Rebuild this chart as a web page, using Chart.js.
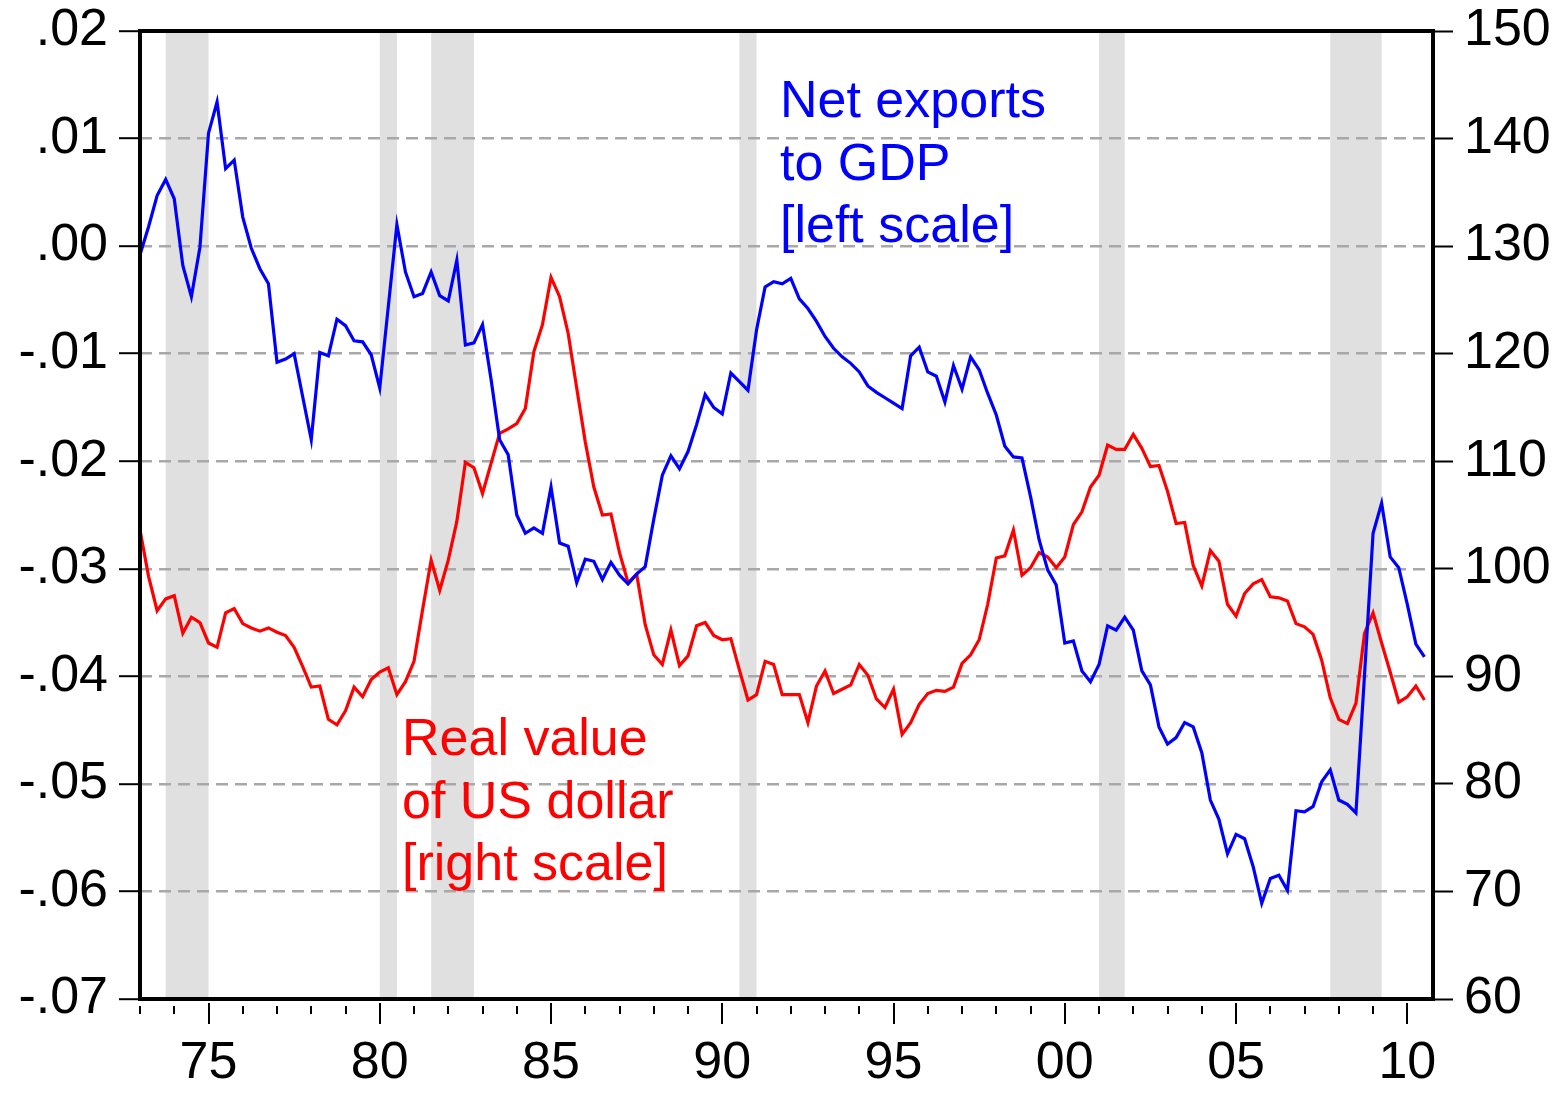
<!DOCTYPE html>
<html>
<head>
<meta charset="utf-8">
<title>Net exports to GDP and the real value of the US dollar</title>
<script src="https://cdn.jsdelivr.net/npm/chart.js@4.4.1/dist/chart.umd.min.js"></script>
<style>
  html, body { margin: 0; padding: 0; background: #fff; overflow: hidden; }
  #wrap { position: relative; width: 1564px; height: 1094px; }
  #chart { display: block; }
  .note {
    position: absolute;
    font-family: "Liberation Sans", Arial, sans-serif;
    font-size: 52px;
    line-height: 62.7px;
    white-space: nowrap;
  }
  #noteBlue { left: 780px; top: 68px; color: #0000ff; }
  #noteRed { left: 402px; top: 706px; color: #ff0000; }
</style>
</head>
<body>
<div id="wrap">
  <canvas id="chart" width="1564" height="1094"></canvas>
  <div class="note" id="noteBlue">Net exports<br>to GDP<br>[left scale]</div>
  <div class="note" id="noteRed">Real value<br>of US dollar<br>[right scale]</div>
</div>
<script>
// Quarterly observations, 1973Q1 to 2010Q3
const firstYear = 1973;

// Net exports to GDP (left scale)
const netExports = [
  -0.0008, 0.0018, 0.0047, 0.0062, 0.0044, -0.0018, -0.0047, -0.0001, 0.0105, 0.0134,
  0.0072, 0.0080, 0.0027, -0.0002, -0.0021, -0.0035, -0.0108, -0.0105, -0.0100, -0.0140,
  -0.0180, -0.0099, -0.0102, -0.0068, -0.0074, -0.0088, -0.0089, -0.0101, -0.0132, -0.0056,
  0.0020, -0.0024, -0.0047, -0.0044, -0.0024, -0.0046, -0.0051, -0.0013, -0.0092, -0.0090,
  -0.0073, -0.0124, -0.0180, -0.0194, -0.0250, -0.0267, -0.0262, -0.0267, -0.0224, -0.0276,
  -0.0279, -0.0313, -0.0291, -0.0293, -0.0310, -0.0294, -0.0306, -0.0314, -0.0305, -0.0298,
  -0.0254, -0.0213, -0.0195, -0.0207, -0.0191, -0.0166, -0.0138, -0.0150, -0.0156, -0.0118,
  -0.0126, -0.0134, -0.0078, -0.0038, -0.0033, -0.0035, -0.0030, -0.0049, -0.0058, -0.0070,
  -0.0084, -0.0095, -0.0103, -0.0109, -0.0117, -0.0130, -0.0136, -0.0141, -0.0146, -0.0151,
  -0.0102, -0.0094, -0.0117, -0.0121, -0.0145, -0.0111, -0.0133, -0.0103, -0.0115, -0.0137,
  -0.0157, -0.0186, -0.0196, -0.0197, -0.0233, -0.0273, -0.0301, -0.0315, -0.0369, -0.0367,
  -0.0395, -0.0405, -0.0389, -0.0353, -0.0357, -0.0345, -0.0357, -0.0395, -0.0408, -0.0447,
  -0.0463, -0.0457, -0.0443, -0.0447, -0.0471, -0.0515, -0.0533, -0.0565, -0.0547, -0.0551,
  -0.0577, -0.0611, -0.0588, -0.0585, -0.0599, -0.0525, -0.0526, -0.0521, -0.0498, -0.0487,
  -0.0515, -0.0519, -0.0527, -0.0399, -0.0267, -0.0239, -0.0289, -0.0299, -0.0333, -0.0370,
  -0.0382
];

// Real value of the US dollar (right scale)
const dollarIndex = [
  103.6, 99.3, 96.1, 97.2, 97.5, 94.0, 95.5, 95.0, 93.1, 92.7,
  95.9, 96.3, 94.9, 94.5, 94.2, 94.5, 94.1, 93.8, 92.7, 90.9,
  89.0, 89.1, 86.0, 85.5, 86.8, 89.0, 88.1, 89.7, 90.4, 90.8,
  88.3, 89.5, 91.4, 96.2, 100.8, 98.0, 100.8, 104.4, 109.9, 109.4,
  107.0, 109.8, 112.6, 113.0, 113.5, 114.9, 120.2, 122.7, 127.1, 125.3,
  121.9, 116.8, 111.8, 107.6, 105.0, 105.1, 101.5, 98.7, 99.5, 94.8,
  92.0, 91.1, 94.3, 91.0, 91.9, 94.7, 95.0, 93.8, 93.4, 93.5,
  90.6, 87.8, 88.3, 91.4, 91.1, 88.3, 88.3, 88.3, 85.7, 89.1,
  90.5, 88.4, 88.8, 89.2, 91.1, 90.1, 87.9, 87.1, 88.8, 84.6,
  85.7, 87.4, 88.4, 88.7, 88.6, 89.0, 91.2, 92.0, 93.4, 96.7,
  101.0, 101.2, 103.6, 99.4, 100.1, 101.5, 101.1, 100.1, 101.1, 104.1,
  105.3, 107.6, 108.7, 111.5, 111.1, 111.1, 112.5, 111.2, 109.5, 109.6,
  107.2, 104.2, 104.3, 100.3, 98.4, 101.7, 100.7, 96.7, 95.6, 97.7,
  98.6, 99.0, 97.4, 97.3, 97.0, 94.9, 94.6, 93.9, 91.5, 88.0,
  86.0, 85.6, 87.5, 94.0, 95.9, 93.1, 90.4, 87.6, 88.1, 89.1,
  87.8
];

// NBER recessions (start and end, in years)
const recessionStart = [1973.75, 1980.0, 1981.5, 1990.5, 2001.0, 2007.75];
const recessionEnd = [1975.0, 1980.5, 1982.75, 1991.0, 2001.75, 2009.25];

// Axis ticks
const leftTicks = [-0.07, -0.06, -0.05, -0.04, -0.03, -0.02, -0.01, 0, 0.01, 0.02];
const leftTickLabels = ['-.07', '-.06', '-.05', '-.04', '-.03', '-.02', '-.01', '.00', '.01', '.02'];
const rightTicks = [60, 70, 80, 90, 100, 110, 120, 130, 140, 150];
const labelYears = [1975, 1980, 1985, 1990, 1995, 2000, 2005, 2010];
const yearLabels = ['75', '80', '85', '90', '95', '00', '05', '10'];

const tickYears = [];
for (let y = 1973; y <= 2010; y++) tickYears.push(y);

// Turns a series into {x, y} points placed on each quarter
function toQuarterPoints(values) {
    return values.map((v, i) => ({ x: firstYear + i / 4, y: v }));
}

// Fixes the size of a vertical axis and drops the extra label padding
function fitVertical(width) {
    return axis => {
        axis.width = width;
        axis.paddingTop = 0;
        axis.paddingBottom = 0;
    };
}

// Grey recession bands behind everything
const recessionBands = {
    id: 'recessionBands',
    beforeDraw(chart) {
        const { ctx, chartArea, scales } = chart;
        ctx.save();
        ctx.fillStyle = '#e0e0e0';
        recessionStart.forEach((start, k) => {
            const x0 = scales.x.getPixelForValue(start);
            const x1 = scales.x.getPixelForValue(recessionEnd[k]);
            ctx.fillRect(x0, chartArea.top, x1 - x0, chartArea.bottom - chartArea.top);
        });
        ctx.restore();
    }
};

// Year ticks under the axis and the black frame
const frameAndTicks = {
    id: 'frameAndTicks',
    afterDatasetsDraw(chart) {
        const { ctx, chartArea, scales } = chart;
        ctx.save();
        ctx.strokeStyle = '#000';
        ctx.lineWidth = 2;
        tickYears.forEach(year => {
            const x = Math.round(scales.x.getPixelForValue(year));
            const major = labelYears.includes(year);
            ctx.beginPath();
            ctx.moveTo(x, chartArea.bottom + (major ? 4 : 7));
            ctx.lineTo(x, chartArea.bottom + (major ? 25 : 15));
            ctx.stroke();
        });
        ctx.lineWidth = 4;
        ctx.strokeRect(chartArea.left, chartArea.top,
            chartArea.right - chartArea.left, chartArea.bottom - chartArea.top);
        ctx.restore();
    }
};

Chart.defaults.font.family = '"Liberation Sans", Arial, sans-serif';
Chart.defaults.color = '#000';

const tickFont = { size: 52, lineHeight: 1 };

new Chart(document.getElementById('chart'), {
    type: 'line',
    data: {
        datasets: [
            {
                label: 'Net exports to GDP',
                data: toQuarterPoints(netExports),
                yAxisID: 'y',
                borderColor: '#0000ff',
                borderWidth: 3.2,
                pointRadius: 0,
                tension: 0
            },
            {
                label: 'Real value of US dollar',
                data: toQuarterPoints(dollarIndex),
                yAxisID: 'y2',
                borderColor: '#ff0000',
                borderWidth: 3.2,
                pointRadius: 0,
                tension: 0
            }
        ]
    },
    options: {
        responsive: false,
        animation: false,
        devicePixelRatio: 1,
        layout: { padding: { top: 31, left: 0, right: 0, bottom: 0 } },
        plugins: {
            legend: { display: false },
            tooltip: { enabled: false }
        },
        scales: {
            x: {
                type: 'linear',
                min: 1973,
                max: 2010.75,
                afterBuildTicks: axis => { axis.ticks = tickYears.map(v => ({ value: v })); },
                afterFit: axis => {
                    axis.height = 95;
                    axis.paddingLeft = 0;
                    axis.paddingRight = 0;
                },
                grid: { display: false, drawTicks: false },
                border: { display: false },
                ticks: {
                    autoSkip: false,
                    maxRotation: 0,
                    minRotation: 0,
                    padding: 39,
                    font: tickFont,
                    callback: value => {
                        const k = labelYears.indexOf(value);
                        return k >= 0 ? yearLabels[k] : '';
                    }
                }
            },
            y: {
                position: 'left',
                min: -0.07,
                max: 0.02,
                afterBuildTicks: axis => { axis.ticks = leftTicks.map(v => ({ value: v })); },
                afterFit: fitVertical(140),
                grid: {
                    color: '#a8a8a8',
                    lineWidth: 2.4,
                    tickColor: '#000',
                    tickWidth: 2,
                    tickLength: 21
                },
                border: { display: false, dash: [12, 7] },
                ticks: {
                    padding: 11,
                    font: tickFont,
                    callback: (value, index) => leftTickLabels[index]
                }
            },
            y2: {
                position: 'right',
                min: 60,
                max: 150,
                afterBuildTicks: axis => { axis.ticks = rightTicks.map(v => ({ value: v })); },
                afterFit: fitVertical(131),
                grid: {
                    drawOnChartArea: false,
                    tickColor: '#000',
                    tickWidth: 2,
                    tickLength: 20
                },
                border: { display: false },
                ticks: {
                    padding: 11,
                    font: tickFont
                }
            }
        }
    },
    plugins: [recessionBands, frameAndTicks]
});
</script>
</body>
</html>
